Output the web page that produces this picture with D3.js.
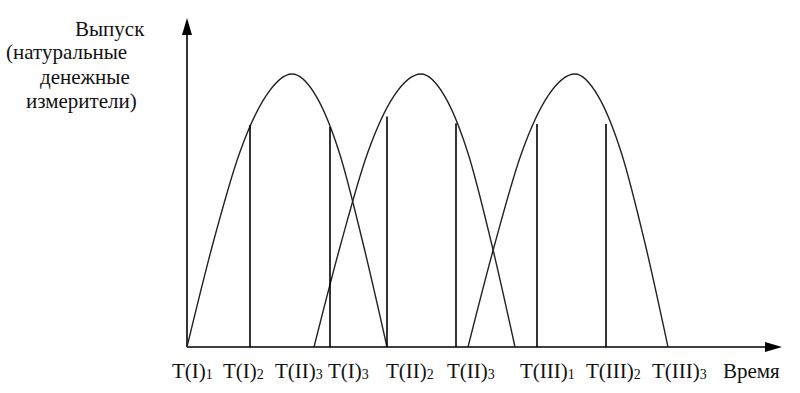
<html>
  <head>
    <style>
    body {
      margin: 0px;
      background: white;
    }
    </style>
  </head>
  <body>
    <div id="elm"></div>

    <script src="https://cdn.jsdelivr.net/npm/d3@7"></script>
    <script>

    'use strict';

    // time positions of the curve points (one array per production cycle)
    var cycleI   = [0, 2.6, 5.25, 7.9, 10.5, 12.9, 15.25, 17.6, 20];
    var cycleII  = [12.7, 15.4, 18.05, 20.7, 23.4, 25.75, 28.1, 30.45, 32.8];
    var cycleIII = [28.1, 30.8, 33.45, 36.1, 38.8, 41.1, 43.45, 45.8, 48.1];
    // output at those points, % of peak
    var output   = [0, 38, 71, 92, 100, 92, 71, 38, 0];

    // vertical markers: time and height
    var markT = [6.3, 14.3, 20.0, 26.9, 35.0, 41.9];
    var markV = [81.3, 80.6, 84.4, 82, 81.7, 81.7];

    // labels under the time axis
    var tickMain = ['T(I)', 'T(I)', 'T(II)', 'T(I)', 'T(II)', 'T(II)', 'T(III)', 'T(III)', 'T(III)'];
    var tickSub  = ['1', '2', '3', '3', '2', '3', '1', '2', '3'];
    var tickT    = [-1.5, 3.6, 8.8, 14.1, 19.9, 26.0, 33.3, 39.9, 46.5];

    var yTitle = ['Выпуск', '(натуральные', 'денежные', 'измерители)'];
    var xTitle = 'Время';

    var W = 800, H = 393;
    var tMax = 59.5, vMax = 120.5;
    var FONT = '"Liberation Serif", "Times New Roman", serif';

    var x = d3.scaleLinear().domain([0, tMax]).range([187, 782]);
    var y = d3.scaleLinear().domain([0, 100]).range([347, 74]);

    var svg = d3.select('#elm').append('svg')
      .attr('width', W).attr('height', H)
      .attr('font-family', FONT);

    // axes
    svg.append('line')
      .attr('x1', x(0)).attr('y1', y(0)).attr('x2', x(tMax) - 14).attr('y2', y(0))
      .attr('stroke', '#000').attr('stroke-width', 1.6);
    svg.append('line')
      .attr('x1', x(0)).attr('y1', y(0)).attr('x2', x(0)).attr('y2', y(vMax) + 14)
      .attr('stroke', '#000').attr('stroke-width', 1.6);

    // arrow heads
    svg.append('path')
      .attr('d', 'M' + x(tMax) + ',' + y(0) + 'l-17,-5l0,10z')
      .attr('fill', '#000');
    svg.append('path')
      .attr('d', 'M' + x(0) + ',' + y(vMax) + 'l-5,17l10,0z')
      .attr('fill', '#000');

    var line = d3.line()
      .x(function (d) { return x(d[0]); })
      .y(function (d) { return y(d[1]); })
      .curve(d3.curveMonotoneX);

    [cycleI, cycleII, cycleIII].forEach(function (ts) {
      svg.append('path')
        .datum(d3.zip(ts, output))
        .attr('d', line)
        .attr('fill', 'none')
        .attr('stroke', '#222')
        .attr('stroke-width', 1.4);
    });

    svg.selectAll('line.mark')
      .data(d3.zip(markT, markV))
      .enter().append('line')
      .attr('class', 'mark')
      .attr('x1', function (d) { return x(d[0]); })
      .attr('x2', function (d) { return x(d[0]); })
      .attr('y1', y(0))
      .attr('y2', function (d) { return y(d[1]); })
      .attr('stroke', '#000')
      .attr('stroke-width', 1.6);

    // tick labels with subscripts
    var lab = svg.selectAll('text.tick')
      .data(d3.range(tickMain.length))
      .enter().append('text')
      .attr('class', 'tick')
      .attr('x', function (i) { return x(tickT[i]); })
      .attr('y', 378)
      .attr('font-size', 21)
      .attr('fill', '#111');
    lab.append('tspan').text(function (i) { return tickMain[i]; });
    lab.append('tspan')
      .attr('font-size', 14)
      .attr('dy', 1)
      .text(function (i) { return tickSub[i]; });

    svg.append('text')
      .attr('x', 723).attr('y', 378)
      .attr('font-size', 21)
      .attr('fill', '#111')
      .text(xTitle);

    // y title lines
    var yX = [75, 6, 40, 26];
    var yY = [36, 59, 84, 108];
    svg.selectAll('text.ytitle')
      .data(yTitle)
      .enter().append('text')
      .attr('class', 'ytitle')
      .attr('x', function (d, i) { return yX[i]; })
      .attr('y', function (d, i) { return yY[i]; })
      .attr('font-size', 21)
      .attr('fill', '#111')
      .text(function (d) { return d; });

    </script>
  </body>
</html>
